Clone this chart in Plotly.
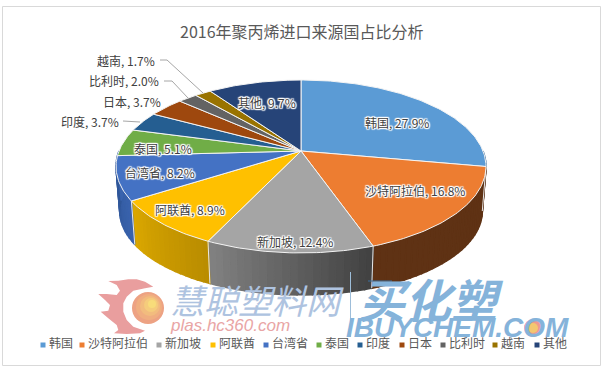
import math
import plotly.graph_objects as go

TITLE = "2016年聚丙烯进口来源国占比分析"
categories = ["韩国", "沙特阿拉伯", "新加坡", "阿联酋", "台湾省", "泰国", "印度", "日本", "比利时", "越南", "其他"]
shares = [27.9, 16.8, 12.4, 8.9, 8.2, 5.1, 3.7, 3.7, 2.0, 1.7, 9.7]
top_colors = ["#5B9BD5", "#ED7D31", "#A5A5A5", "#FFC000", "#4472C4", "#70AD47",
              "#255E91", "#9E480E", "#636363", "#997300", "#264478"]
wall_from = ["#3A6A96", "#5F3214", "#404040", "#B98C00", "#3A64AE", "#3A64AE",
             "#1A4468", "#6E320A", "#454545", "#6B5000", "#1A3055"]
wall_to = ["#3A6A96", "#5F3214", "#828282", "#DBA800", "#2F5597", "#3A64AE",
           "#1A4468", "#6E320A", "#454545", "#6B5000", "#1A3055"]

# --- layout only (pixels) ---
W, H = 605, 370
CX, CY = 301.0, 151.0
R, HY, K = 182.0, 83.7, 0.179
BOT_DY, BOT_SX, BOT_SY = 45.0, 0.98, 0.97
FONT = "Noto Sans CJK SC"
label_xy = [(397, 122, "center"), (415, 190, "center"), (295, 241, "center"), (190, 209, "center"),
            (160, 172, "center"), (163, 148, "center"), (121, 121, "right"), (163, 101, "right"),
            (161, 80, "right"), (157, 60, "right"), (267, 102, "center")]
legend_x = [43, 82, 159, 213, 266, 319, 360, 402, 443, 495, 537]
LEGEND_TEXT_GAP = 6
LEGEND_Y = 345
leaders = [[(123, 121), (140, 122)],
           [(164, 81), (172, 81), (188, 98)],
           [(160, 60), (167, 60), (203, 93)]]


def project(theta, bottom=False):
    u, v = math.sin(theta), math.cos(theta)
    w = 1 + K * v
    x, y = u * R / w, -v * HY / w
    if bottom:
        return CX + BOT_SX * x, CY + BOT_DY + BOT_SY * y
    return CX + x, CY + y


def mix(a, b, t):
    ca = [int(a[i:i + 2], 16) for i in (1, 3, 5)]
    cb = [int(b[i:i + 2], 16) for i in (1, 3, 5)]
    return "rgb(%d,%d,%d)" % tuple(round(p + (q - p) * t) for p, q in zip(ca, cb))


total = sum(shares)
edges = [0.0]
for s in shares:
    edges.append(edges[-1] + s / total * 2 * math.pi)

fig = go.Figure()


def poly(xs, ys, fill, line, width):
    fig.add_trace(go.Scatter(x=xs, y=ys, mode="lines", fill="toself", fillcolor=fill,
                             line=dict(color=line, width=width), hoverinfo="skip", showlegend=False))


# side walls (front half only), as thin shaded strips
for i in range(len(shares)):
    a0, a1 = max(edges[i], math.pi / 2), min(edges[i + 1], 3 * math.pi / 2)
    if a1 <= a0:
        continue
    n = max(2, int((a1 - a0) / math.radians(2)))
    for j in range(n):
        t0 = a0 + (a1 - a0) * j / n
        t1 = a0 + (a1 - a0) * (j + 1) / n
        p = [project(t0), project(t1), project(t1, True), project(t0, True)]
        c = mix(wall_from[i], wall_to[i], (j + 0.5) / n)
        poly([q[0] for q in p] + [p[0][0]], [q[1] for q in p] + [p[0][1]], c, c, 1.5)

# white edges between walls
for i in range(1, len(shares)):
    if math.pi / 2 < edges[i] < 3 * math.pi / 2 * 0.9:
        a, b = project(edges[i]), project(edges[i], True)
        fig.add_trace(go.Scatter(x=[a[0], b[0]], y=[a[1], b[1]], mode="lines",
                                 line=dict(color="#E8E8E8", width=1), hoverinfo="skip", showlegend=False))

# top faces
for i in range(len(shares)):
    n = max(4, int((edges[i + 1] - edges[i]) / math.radians(1)))
    pts = [(CX, CY)] + [project(edges[i] + (edges[i + 1] - edges[i]) * j / n) for j in range(n + 1)] + [(CX, CY)]
    poly([p[0] for p in pts], [p[1] for p in pts], top_colors[i], "#F4F4F4", 1)

# leader lines
for seg in leaders:
    fig.add_trace(go.Scatter(x=[p[0] for p in seg], y=[p[1] for p in seg], mode="lines",
                             line=dict(color="#A6A6A6", width=1), hoverinfo="skip", showlegend=False))

# legend
fig.add_trace(go.Scatter(x=legend_x, y=[LEGEND_Y] * len(legend_x), mode="markers",
                         marker=dict(symbol="square", size=5, color=top_colors),
                         hoverinfo="skip", showlegend=False))
fig.add_trace(go.Scatter(x=[x + LEGEND_TEXT_GAP for x in legend_x], y=[LEGEND_Y] * len(legend_x), mode="text",
                         text=categories, textposition="middle right",
                         textfont=dict(family=FONT, size=12, color="#595959"),
                         hoverinfo="skip", showlegend=False))

HALO = ("1px 0 1px #fff, -1px 0 1px #fff, 0 1px 1px #fff, 0 -1px 1px #fff, "
        "1px 1px 1px #fff, -1px -1px 1px #fff, 1px -1px 1px #fff, -1px 1px 1px #fff")
ann = [dict(x=302, y=31, text=TITLE, showarrow=False, font=dict(family=FONT, size=16, color="#595959"))]
for c, s, (x, y, al) in zip(categories, shares, label_xy):
    inside = al == "center"
    ann.append(dict(x=x, y=y, text=f"{c}, {s:.1f}%", showarrow=False,
                    xanchor=al, yanchor="middle",
                    font=dict(family=FONT, size=12, color="#404040", shadow=HALO if inside else "none")))

# watermarks
ann += [
    dict(x=257, y=299, text="慧聪塑料网", showarrow=False,
         font=dict(family=FONT, size=34, color="#AEC3E0", style="italic")),
    dict(x=230, y=325, text="plas.hc360.com", showarrow=False,
         font=dict(family="Liberation Sans", size=17, color="#E9A5A5", style="italic")),
    dict(x=431, y=298, text="买化塑", showarrow=False,
         font=dict(family=FONT, size=46, color="#85B3DA", style="italic", weight="bold")),
    dict(x=457, y=327, text="IBUYCHEM.COM", showarrow=False,
         font=dict(family="Liberation Sans", size=28, color="#85B3DA", style="italic", weight="bold")),
]

FLAME = [(140, 28), (115, 28), (85, 32), (55, 33), (80, 45), (90, 62), (80, 75), (50, 72), (25, 72),
         (45, 90), (60, 105), (55, 122), (32, 125), (55, 145), (80, 165), (85, 180), (72, 190),
         (110, 192), (150, 190), (165, 182), (130, 170), (110, 150), (100, 125), (100, 100),
         (110, 80), (130, 62), (165, 55), (190, 50), (165, 35)]
flame_path = "M" + " L".join(f"{90 + x / 3:.1f},{270 + y / 3:.1f}" for x, y in FLAME) + " Z"
shapes = [
    dict(type="rect", x0=2.5, y0=6.5, x1=600.5, y1=365.5, line=dict(color="#D9D9D9", width=1), layer="below"),
    dict(type="path", path=flame_path, fillcolor="#E99E9E", line=dict(width=0)),
    dict(type="line", x0=350.5, x1=350.5, y0=272, y1=337, line=dict(color="#9DBDD9", width=1)),
    dict(type="line", x0=368, x1=392, y0=281, y1=281, line=dict(color="#3B6E9E", width=1)),
    dict(type="circle", x0=524, x1=542, y0=319, y1=337, fillcolor="#EE9A8E", line=dict(width=0)),
    dict(type="circle", x0=528, x1=538, y0=323, y1=333, fillcolor="#F4C770", line=dict(width=0)),
]
# shaded logo ball
for r, col, dx in [(16, "#EDA283", 0), (13, "#F0AE80", 1), (10, "#F2BC7E", 2), (7, "#F5CC7C", 3), (4, "#F8DC7A", 4)]:
    shapes.append(dict(type="circle", x0=148 + dx - r, x1=148 + dx + r, y0=308 - dx - r, y1=308 - dx + r,
                       fillcolor=col, line=dict(width=0)))

fig.update_layout(
    width=W, height=H, margin=dict(l=0, r=0, t=0, b=0),
    paper_bgcolor="white", plot_bgcolor="white", showlegend=False,
    xaxis=dict(range=[0, W], visible=False, fixedrange=True),
    yaxis=dict(range=[H, 0], visible=False, fixedrange=True),
    annotations=ann, shapes=shapes,
)
fig.write_html("out.html", config=dict(displayModeBar=False),
               post_script="document.body.style.margin='0';document.body.style.overflow='hidden';")
